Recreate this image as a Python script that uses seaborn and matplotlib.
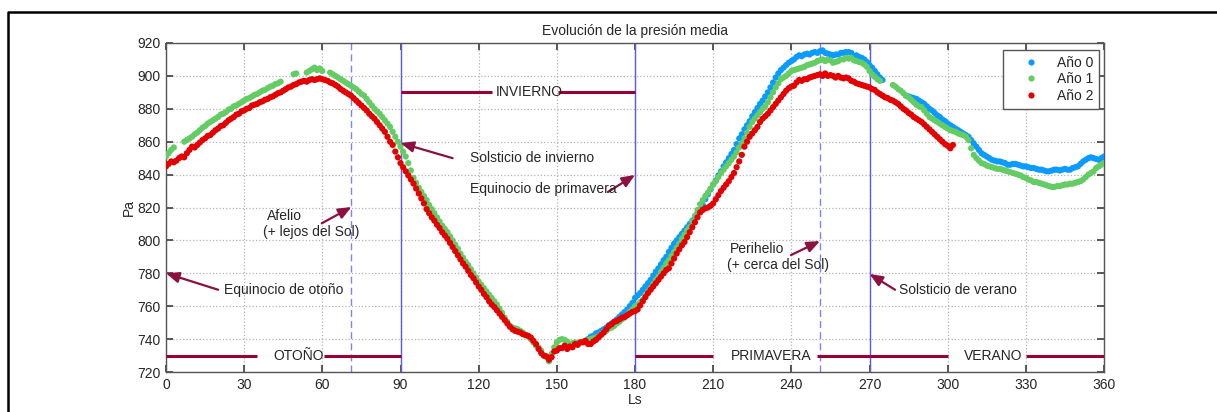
import numpy as np
import pandas as pd
import matplotlib
matplotlib.use('Agg')
import matplotlib.pyplot as plt
import seaborn as sns

# Mean pressure (Pa) per Ls degree
red_start = 0
red_pa = [845, 846.5, 848, 847.5, 848.5, 850, 851, 850.5, 853, 855,
          857, 856.5, 858, 859.5, 861, 862, 863.5, 864, 865.5, 867,
          868, 869.5, 870, 871.5, 873, 874, 875, 876.5, 877, 878.5,
          879, 880, 880.5, 882, 882.5, 883, 884, 884.5, 885.5, 886,
          887, 887.5, 888.5, 889.5, 890, 891, 892, 893, 893.5, 894.5,
          895, 896, 896.5, 897, 896.5, 897.5, 898, 897.5, 898, 898.5,
          898, 897.5, 897, 896, 895.5, 894.5, 893.5, 892, 891, 890,
          889, 888, 886.5, 885, 883.5, 882, 880.5, 879, 877, 875.5,
          874, 872, 870, 868, 866, 863, 860, 858, 854, 850.5,
          847, 844.5, 842, 839.5, 837, 834.5, 831.5, 828.5, 825.5, 822.5,
          819, 816.5, 814, 812, 809.5, 807.5, 805, 803, 801, 798.5,
          796, 793.5, 791, 788.5, 786, 784, 781.5, 779, 777, 774.5,
          772, 770, 767.5, 765.5, 763, 761, 759.5, 757.5, 755.5, 753.5,
          751.5, 749.5, 747.5, 746, 745, 744.5, 744, 743, 742.5, 742,
          741, 739, 737, 734, 731.5, 730, 729.5, 727.5, 729, 732.5,
          733, 734.5, 734.5, 736, 734, 735.5, 735, 737, 736.5, 738,
          738, 739, 737, 737, 738.5, 739.5, 741, 742.5, 744, 746,
          748, 749, 750.5, 751, 752, 753, 753.5, 754.5, 755.5, 756.5,
          757, 758, 760.5, 763, 765.5, 768, 770, 772, 774, 776,
          778, 780, 782, 783, 786, 789, 792, 794.5, 797, 799,
          802, 805, 808, 811, 814, 817, 818.5, 819.5, 820, 821,
          822.5, 825, 827.5, 830, 832, 834, 836, 838.5, 841, 844.5,
          848, 852, 857, 860, 863, 865, 867, 869, 872, 874,
          875.5, 877, 879, 881, 883, 885, 887, 889, 891, 892.5,
          893.5, 894, 896, 897.5, 897, 898, 898, 899, 899.5, 900,
          900.5, 901, 900, 901.5, 900, 900.5, 900, 899, 900, 899,
          898.5, 899, 898.5, 897, 896.5, 895.5, 895, 894.5, 894, 893.5,
          893, 892, 891.5, 890, 889, 888, 887, 886.5, 885.5, 885,
          884, 883, 881.5, 880, 879, 877.5, 876.5, 875, 874, 873,
          872, 870.5, 869, 867.5, 866, 864.5, 863, 861.5, 860, 858.5,
          857.5, 856, 858]

# Year 1 has gaps in the record
green_starts = [0, 7, 49, 54, 63, 279]
green_a = [851, 853, 855, 856.5]
green_b = [860, 861, 862,
           863, 864.5, 865.5, 867, 868.5, 869.5, 871, 872, 873, 874,
           875, 876.5, 877, 878, 879.5, 880, 881.5, 882, 883, 884,
           885, 886, 886.5, 887.5, 888.5, 889, 890, 891, 891.5, 892.5,
           893.5, 894, 895, 895.5, 896.5]
green_c = [901, 901.5]
green_d = [902, 903, 904, 905, 903.5, 904.5, 903]
green_e = [902, 901, 900, 899, 898, 897, 896,
           895, 894, 893, 892, 890.5, 889, 888, 886, 884, 882,
           880, 878.5, 877, 875, 873, 871, 869, 866, 863, 860,
           857, 854, 851, 847, 842.5, 838, 835, 832, 829.5, 827,
           824.5, 821.5, 819, 816.5, 814, 811.5, 809, 807, 805, 802.5,
           800, 797.5, 795, 792, 789.5, 787, 785, 782.5, 780, 777.5,
           775, 773, 771, 769, 767, 765, 763, 761, 758.5, 756,
           753, 750.5, 748, 747, 746.5, 746, 745, 744, 742.5, 741.5,
           740, 738, 736, 735, 733, 730, 729, 726.5, 731, 735,
           738, 739.5, 740, 739.5, 738.5, 737, 737.5, 738, 737.5, 738,
           738.5, 739, 739.5, 740, 740.5, 741, 741.5, 743, 744, 745,
           746.5, 747, 748, 749.5, 750.5, 752, 753, 754.5, 756.5, 758,
           760, 761, 762.5, 764, 766.5, 769, 771, 773.5, 776, 778,
           781, 783.5, 786, 788, 790.5, 793, 795.5, 798, 801, 803.5,
           806, 808, 811.5, 815, 818.5, 822, 824.5, 827, 829, 831.5,
           834, 836, 838.5, 841, 843, 845, 847, 849, 851, 853.5,
           856.5, 859, 862, 865.5, 869, 872, 874, 876, 878, 880,
           881.5, 884, 887, 890, 893, 895.5, 898, 899, 900, 901.5,
           903, 903.5, 904, 904.5, 905, 905.5, 906.5, 907, 907.5, 908,
           909, 909.5, 910, 909, 910, 909.5, 908, 908.5, 909, 910,
           910, 911, 910.5, 911, 909.5, 909, 908.5, 908, 907, 905.5,
           903, 901, 899.5, 898, 897]
green_f = [894.5, 893.5, 892, 891, 889.5, 888, 887, 885.5, 884, 882.5, 881.5,
           881, 879, 877, 875, 874, 873, 872, 871, 870, 869,
           868, 867, 866.5, 866, 865, 864.5, 864, 863, 861, 856,
           852, 850, 848.5, 847, 846.5, 845.5, 845, 844.5, 844, 843.5,
           843.5, 843, 842.5, 842, 841.5, 841, 840.5, 840, 839.5, 838.5,
           838, 837, 836.5, 835.5, 835.5, 835, 834.5, 834, 833.5, 833,
           832.5, 832.5, 833, 833, 833.5, 834, 834, 834.5, 834.5, 835,
           835.5, 836, 837, 838.5, 840, 841, 842, 844, 845, 846, 847]

# Year 0 starts at Ls ~162
blue_starts = [162, 284]
blue_a = [740, 741.5, 742, 743.5, 744, 745, 746, 747,
          748.5, 749.5, 750.5, 752, 753.5, 755, 756.5, 758, 760, 762,
          765, 766.5, 768, 770, 772, 774, 776, 778.5, 781, 783,
          785.5, 788, 790, 793, 795.5, 798, 800, 802, 804, 806,
          808, 810, 812, 814.5, 816.5, 818.5, 821.5, 825, 828, 831,
          834, 836.5, 839.5, 842, 845, 847.5, 850, 852.5, 855, 858.5,
          862, 864.5, 867.5, 870, 872.5, 875.5, 878, 880.5, 883, 885,
          887.5, 890, 893, 896, 899, 901.5, 903.5, 905, 906.5, 908,
          909, 910, 911.5, 912.5, 912, 913, 913.5, 913, 914, 914.5,
          914, 915, 915.5, 914, 913.5, 913, 912.5, 913, 913, 914,
          914, 914.5, 914.5, 914, 912, 912.5, 911.5, 911, 910, 908.5,
          906.5, 905, 903, 901, 899, 897.5]
blue_b = [888, 887.5, 887, 886.5, 886, 885,
          884, 883, 881.5, 880, 879, 877.5, 876, 875, 873.5, 872.5,
          871, 870, 869, 868, 867, 866, 865, 864, 863, 861,
          859, 857, 855, 853, 852, 851, 850, 849, 848.5, 848,
          848, 847.5, 847, 846, 846, 846.5, 846.5, 846, 845.5, 845,
          845, 844.5, 844, 844, 843.5, 843, 843, 842.5, 842, 842,
          842.5, 843, 843, 842.5, 843, 843.5, 843, 843, 844, 844.5,
          845, 846.5, 848, 849, 850, 850.5, 850, 849.5, 849, 850, 851]

years = ['Año 0', 'Año 1', 'Año 2']
year_colors = ['#0a9bff', '#63cc63', '#e40000']

seasons = ['OTOÑO', 'INVIERNO', 'PRIMAVERA', 'VERANO']
season_bounds = [(0, 90), (90, 180), (180, 270), (270, 360)]
season_gaps = [(35, 60.5), (125, 150.5), (210, 249.7), (300, 330)]
season_level = [730, 890, 730, 730]
season_text_x = [41.4, 126.6, 216.7, 306.4]

# (text, text pos, arrow tail, arrow head)
notes = [
    ('Equinocio de otoño', (22.3, 770), (20, 770), (0, 780)),
    ('Solsticio de invierno', (116.7, 850), (110, 850), (90, 859.2)),
    ('Equinocio de primavera', (116.7, 831), (169.6, 829.4), (180, 839.8)),
    ('Solsticio de verano', (281.3, 770), (279.8, 770), (270, 779.6)),
    ('', None, (59.8, 810.4), (71.2, 820.3)),
    ('', None, (239.9, 791.1), (251, 799.6)),
]
two_line_notes = [
    ('Afelio', (38.8, 815), '(+ lejos del Sol)', (37.2, 805)),
    ('Perihelio', (216.5, 795), '(+ cerca del Sol)', (215.3, 785)),
]


def build(starts, parts, name):
    frames = []
    for s, vals in zip(starts, parts):
        frames.append(pd.DataFrame({'Ls': np.arange(s, s + len(vals)),
                                    'Pa': vals, 'Año': name}))
    return pd.concat(frames, ignore_index=True)


df = pd.concat([
    build(blue_starts, [blue_a, blue_b], years[0]),
    build(green_starts, [green_a, green_b, green_c, green_d, green_e, green_f], years[1]),
    build([red_start], [red_pa], years[2]),
], ignore_index=True)

sns.set_theme(style='ticks')
plt.rcParams['font.family'] = ['Liberation Sans', 'DejaVu Sans']
plt.rcParams['font.size'] = 10

fig = plt.figure(figsize=(12.17, 4.12), dpi=100)
ax = fig.add_axes([166 / 1217, 1 - 372 / 412, 938 / 1217, 329 / 412])

ax.grid(True, linestyle=':', color='#b4b4b4', linewidth=0.9)
ax.set_axisbelow(True)

# reference lines: equinoxes / solstices and aphelion / perihelion
for x in [90, 180, 270]:
    ax.axvline(x, color='#5a5aee', lw=1.0, zorder=1.5)
for x in [71, 251]:
    ax.axvline(x, color='#8080ff', lw=1.0, ls=(0, (5, 3)), zorder=1.5)

sns.scatterplot(data=df, x='Ls', y='Pa', hue='Año', hue_order=years,
                palette=year_colors, s=20, linewidth=0, ax=ax, zorder=3)

season_color = '#990033'
for name, (a, b), (g0, g1), lev, tx in zip(seasons, season_bounds, season_gaps,
                                            season_level, season_text_x):
    ax.plot([a, g0], [lev, lev], color=season_color, lw=2.2, zorder=4, solid_capstyle='butt')
    ax.plot([g1, b], [lev, lev], color=season_color, lw=2.2, zorder=4, solid_capstyle='butt')
    ax.text(tx, lev, name, ha='left', va='center', fontsize=10, zorder=5)

arrow_color = '#8c1040'
for txt, tpos, tail, head in notes:
    ax.annotate('', xy=head, xytext=tail,
                arrowprops=dict(arrowstyle='-|>,head_length=0.6,head_width=0.25',
                                color=arrow_color, lw=1.6,
                                mutation_scale=13, shrinkA=0, shrinkB=0),
                zorder=5)
    if txt:
        ax.text(tpos[0], tpos[1], txt, ha='left', va='center', fontsize=10, zorder=5)
for t1, p1, t2, p2 in two_line_notes:
    ax.text(p1[0], p1[1], t1, ha='left', va='center', fontsize=10)
    ax.text(p2[0], p2[1], t2, ha='left', va='center', fontsize=10)

ax.set_xlim(0, 360)
ax.set_ylim(720, 920)
ax.set_xticks(range(0, 361, 30))
ax.set_yticks(range(720, 921, 20))
ax.tick_params(direction='in', length=5, top=True, right=True, labelsize=10,
               color='#444444', pad=4)
for sp in ax.spines.values():
    sp.set_visible(True)
    sp.set_color('#555555')
    sp.set_linewidth(1.0)

ax.set_title('Evolución de la presión media', fontsize=10, pad=6)
ax.set_xlabel('Ls', fontsize=10, labelpad=1)
ax.set_ylabel('Pa', fontsize=10, labelpad=1)

leg = ax.legend(loc='upper right', bbox_to_anchor=(0.9947, 0.9787), borderaxespad=0,
                fancybox=False, framealpha=1, edgecolor='#555555', fontsize=10,
                handlelength=3.3, handletextpad=0.2, labelspacing=0.2,
                borderpad=0.4, title=None)
leg.get_frame().set_linewidth(1.0)

# outer figure frame
fig.add_artist(plt.Line2D([8 / 1217, 8 / 1217, 1], [0, 1 - 12 / 412, 1 - 12 / 412],
                          color='black', lw=1.8, transform=fig.transFigure))

fig.savefig('out.png', dpi=100, facecolor='white')
